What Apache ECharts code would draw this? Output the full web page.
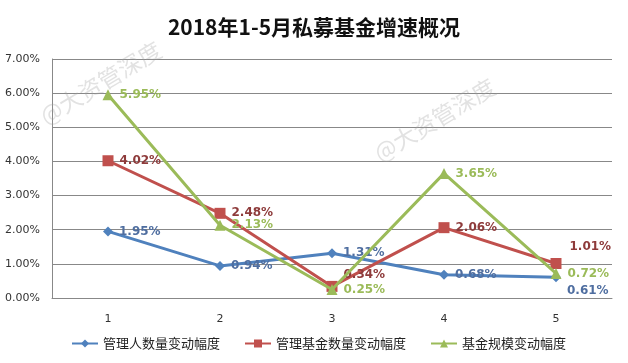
<!DOCTYPE html>
<html><head><meta charset="utf-8">
<script src="https://cdn.jsdelivr.net/npm/echarts@6/dist/echarts.min.js"></script>
<style>html,body{margin:0;padding:0;background:#fff}#c{width:628px;height:363px}</style>
</head><body><div id="c"></div>
<script>
var categories = ['1', '2', '3', '4', '5'];
var seriesNames = ['管理人数量变动幅度', '管理基金数量变动幅度', '基金规模变动幅度'];
var managers = [1.95, 0.94, 1.31, 0.68, 0.61];
var funds = [4.02, 2.48, 0.34, 2.06, 1.01];
var scale = [5.95, 2.13, 0.25, 3.65, 0.72];

var lineColors = ['#4F81BD', '#C0504D', '#9BBB59'];
var labelColors = ['#4F6EA0', '#8E3B3B', '#9BBB59'];
var symbols = ['diamond', 'rect', 'triangle'];
var symbolSizes = [10, 11, 11];
// label tweaks per series/index: [dx, dy]
var labelTweaks = [
  {4: [0, 14]},
  {2: [0, -12], 4: [2, -17]},
  {}
];

function buildData(vals, si) {
  return vals.map(function (v, i) {
    var t = labelTweaks[si][i];
    var d = {value: v};
    if (t) d.label = {offset: t};
    return d;
  });
}

var all = [managers, funds, scale];
var series = all.map(function (vals, si) {
  return {
    name: seriesNames[si],
    type: 'line',
    data: buildData(vals, si),
    symbol: symbols[si],
    symbolSize: symbolSizes[si],
    itemStyle: {color: lineColors[si]},
    lineStyle: {color: lineColors[si], width: 3},
    label: {
      show: true, position: 'right', distance: 6,
      formatter: function (p) { return p.value.toFixed(2) + '%'; },
      color: labelColors[si], fontWeight: 'bold', fontSize: 12,
      fontFamily: 'DejaVu Sans'
    },
    z: 2 + si
  };
});

var wm = '@大资管深度';
var wmStyle = {text: wm, fill: 'rgba(160,160,160,0.3)', font: '23px "Noto Sans CJK SC"',
  textAlign: 'left', textVerticalAlign: 'middle'};

var chart = echarts.init(document.getElementById('c'));
chart.setOption({
  animation: false,
  backgroundColor: '#fff',
  title: {
    text: '2018年1-5月私募基金增速概况', left: 'center', top: 12,
    textStyle: {fontFamily: 'Noto Sans CJK SC', fontWeight: 'bold', fontSize: 21, color: '#111'}
  },
  graphic: [
    {type: 'text', x: 42, y: 118, rotation: 0.54, z: 1, style: wmStyle},
    {type: 'text', x: 376, y: 155, rotation: 0.54, z: 1, style: wmStyle}
  ],
  legend: {
    bottom: 8, left: 66, itemGap: 24, itemWidth: 26, itemHeight: 10,
    textStyle: {fontFamily: 'Noto Sans CJK SC', fontSize: 13, color: '#222'},
    data: seriesNames
  },
  grid: {left: 52, right: 16, top: 59, bottom: 65},
  xAxis: {
    type: 'category', data: categories, boundaryGap: true,
    axisLine: {lineStyle: {color: '#888'}},
    axisTick: {show: false},
    axisLabel: {color: '#333', fontSize: 11, margin: 16, fontFamily: 'DejaVu Sans'}
  },
  yAxis: {
    type: 'value', min: 0, max: 7, interval: 1,
    axisLine: {show: true, lineStyle: {color: '#888'}},
    axisTick: {show: false},
    splitLine: {lineStyle: {color: '#888'}},
    axisLabel: {color: '#333', fontSize: 11, margin: 12, fontFamily: 'DejaVu Sans',
      formatter: function (v) { return v.toFixed(2) + '%'; }}
  },
  series: series
});
</script></body></html>
